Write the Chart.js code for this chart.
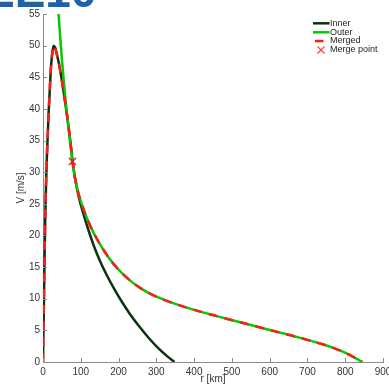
<!DOCTYPE html>
<html>
<head>
<meta charset="utf-8">
<script src="https://cdn.jsdelivr.net/npm/chart.js@4/dist/chart.umd.min.js"></script>
<style>
  html, body { margin: 0; padding: 0; background: #ffffff; overflow: hidden; }
  #wrap { position: absolute; left: 0; top: 0; width: 400px; height: 385px; }
</style>
</head>
<body>
<div id="wrap"><canvas id="c"></canvas></div>
<script>
// ---- data ----
const innerR = [0, 2, 4, 6, 8, 10, 13, 15, 18, 21, 25, 28, 32, 36, 42, 46, 50, 55, 60, 67, 73, 78, 85, 95, 107, 120, 135, 150, 170, 190, 210, 230, 255, 280, 305, 330, 348];
const innerV = [0, 8, 16, 23, 28, 32, 36.5, 39.5, 43, 46.5, 49, 50, 49.7, 48.8, 47.2, 45.9, 44.5, 42.5, 40.5, 37.5, 34.6, 31.9, 29.0, 26.0, 23.4, 20.9, 18.3, 16.1, 13.6, 11.4, 9.4, 7.6, 5.6, 3.8, 2.2, 0.85, 0];

const outerR = [41, 45, 50, 55, 60, 67, 73, 78, 85, 95, 107, 120, 135, 150, 175, 200, 230, 260, 290, 326, 370, 414, 460, 501, 550, 598, 650, 700, 740, 770, 795, 815, 832, 845];
const outerV = [55.2, 51.8, 47.9, 44.4, 41.2, 37.2, 34.1, 31.7, 29.0, 26.4, 24.2, 22.2, 20.3, 18.7, 16.4, 14.6, 12.9, 11.6, 10.6, 9.7, 8.8, 8.0, 7.25, 6.6, 5.85, 5.1, 4.3, 3.5, 2.8, 2.2, 1.6, 1.0, 0.45, 0];

const mergeR = [78];
const mergeV = [31.7];

const xTicks = [0, 100, 200, 300, 400, 500, 600, 700, 800, 900];
const yTicks = [0, 5, 10, 15, 20, 25, 30, 35, 40, 45, 50, 55];
const legendLabels = ['Inner', 'Outer', 'Merged', 'Merge point'];

// merged = inner up to merge point, then outer
const mergedR = innerR.filter(r => r < mergeR[0]).concat(outerR.filter(r => r >= mergeR[0]));
const mergedV = innerV.filter((v, i) => innerR[i] < mergeR[0]).concat(outerV.filter((v, i) => outerR[i] >= mergeR[0]));

const toXY = (xs, ys) => xs.map((x, i) => ({ x: x, y: ys[i] }));

const C_INNER = '#0b330f';
const C_OUTER = '#00cc00';
const C_MERGED = '#ff1a1a';
const C_MPOINT = 'rgba(200,40,40,0.9)';
const AXIS = '#8c8c8c';
const TXT = '#333333';

const titlePlugin = {
  id: 'topTitle',
  beforeDraw(chart) {
    const ctx = chart.ctx;
    ctx.save();
    ctx.fillStyle = '#1d63a6';
    ctx.font = 'bold 46px "Liberation Sans", Arial, sans-serif';
    ctx.textBaseline = 'alphabetic';
    ctx.textAlign = 'left';
    ctx.fillText('EE10', -16, 7);
    ctx.restore();
  }
};

const ticksPlugin = {
  id: 'inTicks',
  afterDraw(chart) {
    const ctx = chart.ctx;
    const xs = chart.scales.x, ys = chart.scales.y;
    const ca = chart.chartArea;
    ctx.save();
    ctx.strokeStyle = AXIS;
    ctx.lineWidth = 1;
    ctx.beginPath();
    yTicks.forEach(v => {
      const p = Math.round(ys.getPixelForValue(v)) + 0.5;
      ctx.moveTo(ca.left, p); ctx.lineTo(ca.left + 4, p);
    });
    xTicks.forEach(v => {
      const p = Math.round(xs.getPixelForValue(v)) + 0.5;
      ctx.moveTo(p, ca.bottom); ctx.lineTo(p, ca.bottom - 4);
    });
    ctx.stroke();

    // legend
    const lx0 = 313, lx1 = 329.5, tx = 330;
    const rows = [23.3, 32.3, 41, 50];
    ctx.font = '9px "Liberation Sans", Arial, sans-serif';
    ctx.textBaseline = 'middle';
    ctx.textAlign = 'left';
    ctx.lineCap = 'butt';
    ctx.strokeStyle = C_INNER; ctx.lineWidth = 2.5;
    ctx.beginPath(); ctx.moveTo(lx0, rows[0]); ctx.lineTo(lx1, rows[0]); ctx.stroke();
    ctx.strokeStyle = C_OUTER; ctx.lineWidth = 2.5;
    ctx.beginPath(); ctx.moveTo(lx0, rows[1]); ctx.lineTo(lx1, rows[1]); ctx.stroke();
    ctx.strokeStyle = C_MERGED; ctx.lineWidth = 2.5;
    ctx.beginPath(); ctx.moveTo(315, rows[2]); ctx.lineTo(323.5, rows[2]); ctx.stroke();
    ctx.strokeStyle = '#ff3b3b'; ctx.lineWidth = 1.2;
    ctx.beginPath();
    ctx.moveTo(317.5, rows[3] - 3.5); ctx.lineTo(324.5, rows[3] + 3.5);
    ctx.moveTo(324.5, rows[3] - 3.5); ctx.lineTo(317.5, rows[3] + 3.5);
    ctx.stroke();
    ctx.fillStyle = '#222222';
    legendLabels.forEach((t, i) => ctx.fillText(t, tx, rows[i]));
    ctx.restore();
  }
};

new Chart(document.getElementById('c'), {
  type: 'scatter',
  data: {
    datasets: [
      { label: legendLabels[0], data: toXY(innerR, innerV), showLine: true, borderColor: C_INNER, borderWidth: 2.5, pointRadius: 0, cubicInterpolationMode: 'monotone', order: 4 },
      { label: legendLabels[1], data: toXY(outerR, outerV), showLine: true, borderColor: C_OUTER, borderWidth: 2.5, pointRadius: 0, cubicInterpolationMode: 'monotone', order: 3 },
      { label: legendLabels[2], data: toXY(mergedR, mergedV), showLine: true, borderColor: C_MERGED, borderWidth: 2.5, borderDash: [9, 7], pointRadius: 0, cubicInterpolationMode: 'monotone', order: 2 },
      { label: legendLabels[3], data: toXY(mergeR, mergeV), showLine: false, pointStyle: 'crossRot', pointRadius: 5, borderColor: C_MPOINT, borderWidth: 1.5, order: 1 }
    ]
  },
  options: {
    responsive: true,
    maintainAspectRatio: false,
    devicePixelRatio: 1,
    animation: false,
    events: [],
    layout: { padding: { top: 14, right: 17, left: 0, bottom: 0 } },
    plugins: { legend: { display: false }, tooltip: { enabled: false } },
    scales: {
      x: {
        type: 'linear', min: 0, max: 900,
        afterFit(s) { s.height = 23; },
        afterBuildTicks(s) { s.ticks = xTicks.map(v => ({ value: v })); },
        grid: { display: false, drawTicks: false },
        border: { display: true, color: AXIS, width: 1 },
        ticks: { color: TXT, padding: 4, maxRotation: 0, font: { family: '"Liberation Sans", Arial, sans-serif', size: 10 } },
        title: { display: true, text: 'r [km]', color: TXT, padding: { top: 0, bottom: 0 }, font: { family: '"Liberation Sans", Arial, sans-serif', size: 10 } }
      },
      y: {
        type: 'linear', min: 0, max: 55,
        afterFit(s) { s.width = 43; },
        afterBuildTicks(s) { s.ticks = yTicks.map(v => ({ value: v })); },
        grid: { display: false, drawTicks: false },
        border: { display: true, color: AXIS, width: 1 },
        ticks: { color: TXT, padding: 3, font: { family: '"Liberation Sans", Arial, sans-serif', size: 10 } },
        title: { display: true, text: 'V [m/s]', color: TXT, padding: { top: 15, bottom: 0 }, font: { family: '"Liberation Sans", Arial, sans-serif', size: 10 } }
      }
    }
  },
  plugins: [titlePlugin, ticksPlugin]
});
</script>
</body>
</html>
